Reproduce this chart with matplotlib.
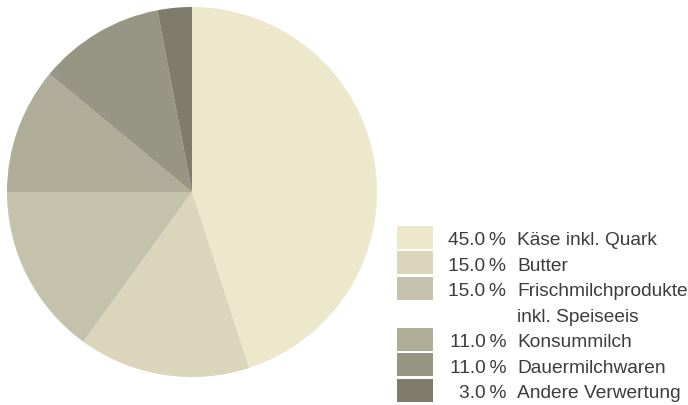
import matplotlib.pyplot as plt
from matplotlib.patches import Rectangle

# Verwertung der Milch (Anteile in %)
labels = ["Käse inkl. Quark", "Butter", "Frischmilchprodukte\ninkl. Speiseeis",
          "Konsummilch", "Dauermilchwaren", "Andere Verwertung"]
shares = [45.0, 15.0, 15.0, 11.0, 11.0, 3.0]
colors = ["#ede7cc", "#dad5bb", "#c5c2ab", "#afac98", "#979684", "#7f7c6c"]

W, H = 688, 406
fig = plt.figure(figsize=(W / 100, H / 100), dpi=100)

# pie: centre ~ (192, 193) px, radius ~ 185 px
ax = fig.add_axes([7 / W, (H - 378) / H, 370 / W, 370 / H])
ax.pie(shares, colors=colors, startangle=90, counterclock=False,
       wedgeprops=dict(linewidth=0))
ax.set_xlim(-1, 1)
ax.set_ylim(-1, 1)
ax.set_aspect("equal")
ax.axis("off")

# legend drawn by hand (swatch, right-aligned percentage, label)
row_h = 25.5
y_top = 238          # centre of the first swatch in px from the top
sw_x, sw_w, sw_h = 397, 36, 23
txt_color = "#3c3c3c"
fs = 13.8
row = 0
for lab, val, col in zip(labels, shares, colors):
    yc = y_top + row * row_h
    fig.patches.append(Rectangle((sw_x / W, (H - yc - sw_h / 2) / H), sw_w / W, sw_h / H,
                                 transform=fig.transFigure, facecolor=col,
                                 edgecolor="none"))
    ty = yc + 3
    fig.text(506 / W, (H - ty) / H, f"{val:.1f}\u2009%", ha="right", va="center",
             fontsize=fs, family="Liberation Sans", color=txt_color)
    lines = lab.split("\n")
    for k, line in enumerate(lines):
        fig.text(517 / W, (H - ty - k * row_h) / H, line, ha="left", va="center",
                 fontsize=fs, family="Liberation Sans", color=txt_color)
    row += len(lines)

fig.savefig("out.png", dpi=100)
